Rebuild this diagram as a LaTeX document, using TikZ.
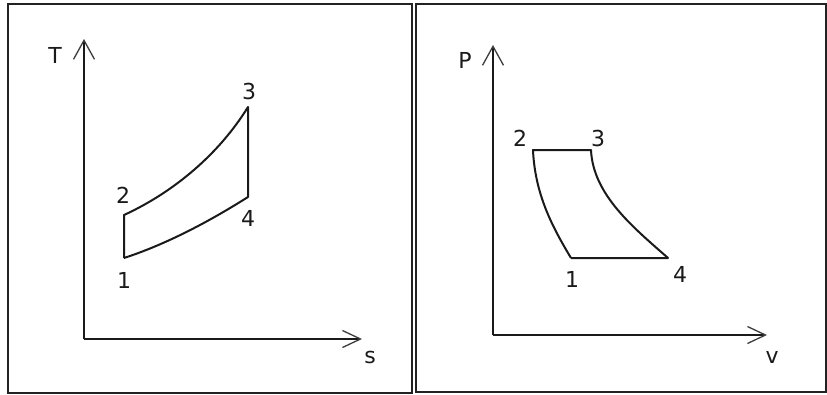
\documentclass[tikz,border=0pt]{standalone}
\usepackage{fontspec}
\setmainfont{DejaVu Sans}
\usetikzlibrary{arrows.meta}
\definecolor{ink}{HTML}{1A1A1A}
\definecolor{frame}{HTML}{222222}
\begin{document}
\begin{tikzpicture}[x=1pt,y=-1pt,
  panel/.style={draw=frame,line width=2pt},
  axis/.style={draw=ink,line width=1.9pt,-{Straight Barb[length=19pt,width=21pt,line width=1.3pt,color=ink!85]}},
  haxis/.style={draw=ink,line width=1.9pt,-{Straight Barb[length=18pt,width=17pt,line width=1.3pt,color=ink!85]}},
  cycle/.style={draw=ink,line width=2pt,line join=round},
  lbl/.style={text=ink,font=\fontsize{22}{25}\selectfont,inner sep=0pt}]
\useasboundingbox (0,0) rectangle (827,394);
\fill[white] (0,0) rectangle (827,394);
% panels
\draw[panel] (8,4) rectangle (412,393);
\draw[panel] (416,4) rectangle (826,392);

% ---------- T-s diagram ----------
\coordinate (o1) at (84,339);
\coordinate (ty) at (84,39);
\coordinate (sx) at (362,339);
\draw[axis] (o1) -- (ty);
\draw[haxis] (o1) -- (sx);
\node[lbl] (T) at (55,55) {T};
\node[lbl] (s) at (370,357) {s};

\coordinate (a1) at (124,258);
\coordinate (a2) at (124,215);
\coordinate (a3) at (248,107);
\coordinate (a4) at (248,197);
\draw[cycle] (a1) -- (a2) .. controls (174,192) and (219,154) .. (a3) -- (a4)
  .. controls (210,221) and (167,244) .. (a1);
\node[lbl] (l1) at (124,280) {1};
\node[lbl] (l2) at (123,195) {2};
\node[lbl] (l3) at (249,91) {3};
\node[lbl] (l4) at (248,218) {4};

% ---------- P-v diagram ----------
\coordinate (o2) at (493,335);
\coordinate (py) at (493,45);
\coordinate (vx) at (767,335);
\draw[axis] (o2) -- (py);
\draw[haxis] (o2) -- (vx);
\node[lbl] (P) at (465,60) {P};
\node[lbl] (v) at (772,357) {v};

\coordinate (b1) at (571,258);
\coordinate (b2) at (533,150);
\coordinate (b3) at (591,150);
\coordinate (b4) at (668,258);
\draw[cycle] (b1) .. controls (553,228) and (535,195) .. (b2) -- (b3)
  .. controls (593,195) and (634,228) .. (b4) -- (b1);
\node[lbl] (m1) at (572,279) {1};
\node[lbl] (m2) at (520,138) {2};
\node[lbl] (m3) at (598,138) {3};
\node[lbl] (m4) at (680,274) {4};
\end{tikzpicture}
\end{document}
